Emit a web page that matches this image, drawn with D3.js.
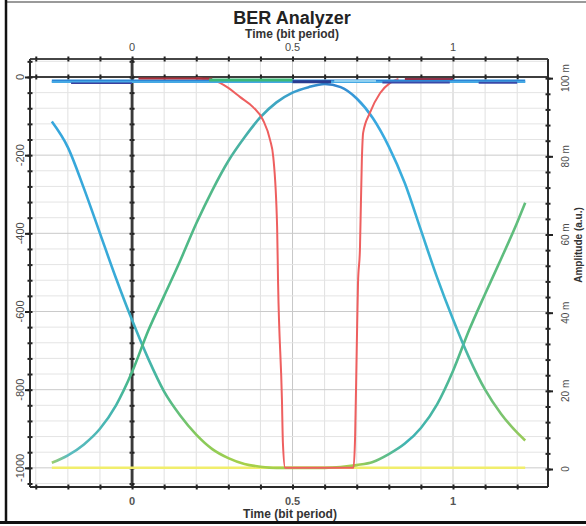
<!DOCTYPE html>
<html>
<head>
<meta charset="utf-8">
<script src="https://cdn.jsdelivr.net/npm/d3@7"></script>
<style>
  html, body { margin: 0; padding: 0; background: #fff; }
  svg { display: block; font-family: 'Liberation Sans', Arial, sans-serif; }
</style>
</head>
<body>
<svg id="chart" width="586" height="526"></svg>
<script>
// tick labels
const timeTicks = [0, 0.5, 1];
const leftTicks = [0, -200, -400, -600, -800, -1000];
const rightTicks = [0, 20, 40, 60, 80, 100];
const rightLabels = ['0', '20 m', '40 m', '60 m', '80 m', '100 m'];

// eye trace that falls from the left, rests on the floor and rises to the right
const zeroTime = [-0.25, -0.2, -0.15, -0.1, -0.05, 0, 0.05, 0.1, 0.15, 0.2, 0.25, 0.3, 0.35, 0.4, 0.45, 0.5,
  0.55, 0.6, 0.65, 0.7, 0.75, 0.8, 0.85, 0.9, 0.95, 1.0, 1.05, 1.1, 1.15, 1.2, 1.225];
const zeroValue = [-114, -180, -285, -400, -515, -622, -720, -805, -866, -915, -952, -975, -990, -997, -1000, -1000,
  -1000, -1000, -998, -993, -985, -965, -938, -898, -838, -752, -648, -555, -465, -372, -322];

// eye trace that rises from the left, peaks near 0.6 and falls to the right
const oneTime = zeroTime;
const oneValue = [-987, -968, -940, -900, -840, -755, -650, -560, -470, -375, -290, -215, -155, -103, -65, -40,
  -26, -18, -26, -55, -105, -178, -272, -392, -512, -620, -718, -800, -862, -910, -930];

// BER curve (red)
const berTime = [0.2, 0.25, 0.274, 0.3, 0.336, 0.377, 0.408, 0.43, 0.44, 0.452, 0.455, 0.467, 0.47, 0.477,
  0.69, 0.695, 0.7, 0.704, 0.71, 0.716, 0.72, 0.741, 0.773, 0.804, 0.83];
const berValue = [-4, -8, -15, -28, -51, -77, -110, -161, -205, -384, -528, -826, -936, -1000,
  -1000, -920, -698, -528, -442, -212, -143, -92, -41, -15, -5];

// flat floor (yellow)
const floorTime = [-0.25, 1.225];
const floorValue = [-1000, -1000];

// pieces of the top rail
const railStart = [-0.25, -0.25, -0.19, 0.02, 0.24, 0.5, 0.63, 0.78, 0.85, 1.08];
const railEnd = [1.225, 1.225, 0.0, 0.25, 0.5, 0.62, 0.76, 0.99, 1.0, 1.2];
const railValue = [-10, -13, -16, -4, -8, -12, -10, -14, -5, -15];

(function () {
  'use strict';

  const railColor = ['#2b86d6', '#45a8e4', '#3b3f9e', '#b0303a', '#3cb878', '#2a3c90', '#8fd0f0', '#3848a8', '#903048', '#3848a8'];
  const railWidth = [3, 2, 1.5, 2, 3, 3, 2, 2, 2, 2];

  const zeroStopT = [-0.25, -0.05, 0.02, 0.1, 0.2, 0.35, 0.7, 0.78, 0.86, 0.95, 1.05, 1.225];
  const zeroStopC = ['#36a6dc', '#38aad8', '#3fb2c0', '#4cb890', '#86c95c', '#a6d04a', '#a2ce4e', '#62be84', '#3eb3b6', '#48b6a0', '#58bb80', '#62be7c'];
  const oneStopT = [-0.25, -0.2, -0.06, 0.0, 0.25, 0.4, 0.52, 0.62, 0.72, 0.8, 1.0, 1.08, 1.225];
  const oneStopC = ['#9ccf6c', '#5cbcc0', '#45b5b0', '#4ab884', '#52b988', '#42acb8', '#389cd0', '#2f7fca', '#3aa3de', '#38ace0', '#3cb2cc', '#5cbc84', '#9acb58'];

  const L = 30, R = 548, T = 59, B = 487;

  const svg = d3.select('#chart');
  const x = d3.scaleLinear().domain([-0.318, 1.296]).range([L, R]);
  const yL = d3.scaleLinear().domain([-1049, 46]).range([B, T]);
  const yR = d3.scaleLinear().domain([-4.6, 104.9]).range([B, T]);

  const xMinor = d3.range(-3, 13).map(d => d / 10);
  const yMinor = d3.range(-26, 2).map(d => d * 40);
  const rMinor = d3.range(0, 26).map(d => d * 4);

  _window();
  _grid();
  _traces();
  _frame();
  _labels();

  function _window() {
    svg.append('line').attr('x1', 6).attr('x2', 586).attr('y1', 2).attr('y2', 2)
      .attr('stroke', '#9a9a9a').attr('stroke-width', 2);
    svg.append('line').attr('x1', 6).attr('x2', 6).attr('y1', 0).attr('y2', 522)
      .attr('stroke', '#111').attr('stroke-width', 2.5);
    svg.append('line').attr('x1', 0).attr('x2', 586).attr('y1', 522.5).attr('y2', 522.5)
      .attr('stroke', '#111').attr('stroke-width', 3);
  }

  function _grid() {
    const g = svg.append('g');
    g.selectAll('.vgrid').data(xMinor).join('line')
      .attr('x1', d => x(d)).attr('x2', d => x(d)).attr('y1', T).attr('y2', B)
      .attr('stroke', d => Math.abs(d * 2 - Math.round(d * 2)) < 1e-6 ? '#c8c8c8' : '#e0e0e0')
      .attr('stroke-width', 1);
    g.selectAll('.hgrid').data(yMinor).join('line')
      .attr('x1', L).attr('x2', R).attr('y1', d => yL(d)).attr('y2', d => yL(d))
      .attr('stroke', d => d % 200 === 0 ? '#cacaca' : '#e4e4e4')
      .attr('stroke-width', 1);

    // zero lines with their own ticks
    const zx = svg.append('g').attr('transform', `translate(0,${yL(0)})`);
    zx.call(d3.axisBottom(x).tickValues(xMinor).tickSize(2.5).tickFormat(''));
    zx.call(g2 => g2.append('g').call(d3.axisTop(x).tickValues(xMinor).tickSize(2.5).tickFormat('')));
    _style(zx, '#333', 1.5);

    const zy = svg.append('g').attr('transform', `translate(${x(0)},0)`);
    zy.call(d3.axisLeft(yL).tickValues(yMinor).tickSize(2.5).tickFormat(''));
    zy.call(g2 => g2.append('g').call(d3.axisRight(yL).tickValues(yMinor).tickSize(2.5).tickFormat('')));
    _style(zy, '#3a3a3a', 2.5);
    zy.selectAll('.domain').attr('d', `M0,${T}V${B}`);
    zx.selectAll('.domain').attr('d', `M${L},0H${R}`);
  }

  function _style(g, color, width) {
    g.selectAll('.domain').attr('stroke', color).attr('stroke-width', width);
    g.selectAll('.tick line').attr('stroke', '#222').attr('stroke-width', 2);
  }

  function _gradient(id, stopT, stopC) {
    const defs = svg.select('defs').empty() ? svg.append('defs') : svg.select('defs');
    const grad = defs.append('linearGradient').attr('id', id)
      .attr('gradientUnits', 'userSpaceOnUse')
      .attr('x1', x(stopT[0])).attr('x2', x(stopT[stopT.length - 1]))
      .attr('y1', 0).attr('y2', 0);
    const span = stopT[stopT.length - 1] - stopT[0];
    grad.selectAll('stop').data(stopT).join('stop')
      .attr('offset', d => (d - stopT[0]) / span)
      .attr('stop-color', (d, i) => stopC[i]);
  }

  function _traces() {
    const line = d3.line().x(d => x(d[0])).y(d => yL(d[1])).curve(d3.curveMonotoneX);
    const zip = (a, b) => a.map((t, i) => [t, b[i]]);

    _gradient('zeroGrad', zeroStopT, zeroStopC);
    _gradient('oneGrad', oneStopT, oneStopC);

    svg.append('path').datum(zip(floorTime, floorValue)).attr('d', line)
      .attr('fill', 'none').attr('stroke', '#f1ee6c').attr('stroke-width', 2.5);

    svg.append('path').datum(zip(zeroTime, zeroValue)).attr('d', line)
      .attr('fill', 'none').attr('stroke', 'url(#zeroGrad)').attr('stroke-width', 2.6);
    svg.append('path').datum(zip(oneTime, oneValue)).attr('d', line)
      .attr('fill', 'none').attr('stroke', 'url(#oneGrad)').attr('stroke-width', 2.6);

    svg.append('path').datum(zip(berTime, berValue)).attr('d', line)
      .attr('fill', 'none').attr('stroke', '#ee5f5f').attr('stroke-width', 2);

    svg.append('g').selectAll('line').data(railStart).join('line')
      .attr('x1', d => x(d)).attr('x2', (d, i) => x(railEnd[i]))
      .attr('y1', (d, i) => yL(railValue[i])).attr('y2', (d, i) => yL(railValue[i]))
      .attr('stroke', (d, i) => railColor[i]).attr('stroke-width', (d, i) => railWidth[i]);
  }

  function _frame() {
    const left = svg.append('g').attr('transform', `translate(${L},0)`);
    left.call(d3.axisLeft(yL).tickValues(yMinor).tickSize(2.5).tickFormat(''));
    left.call(g => g.append('g').call(d3.axisRight(yL).tickValues(yMinor).tickSize(2.5).tickFormat('')));
    left.call(g => g.append('g').call(d3.axisLeft(yL).tickValues(leftTicks).tickSize(5).tickFormat('')));
    _style(left, '#2a2a2a', 2);
    left.selectAll('.domain').attr('d', `M0,${T}V${B}`);

    const right = svg.append('g').attr('transform', `translate(${R},0)`);
    right.call(d3.axisRight(yR).tickValues(rMinor).tickSize(2.5).tickFormat(''));
    right.call(g => g.append('g').call(d3.axisLeft(yR).tickValues(rMinor).tickSize(2.5).tickFormat('')));
    right.call(g => g.append('g').call(d3.axisRight(yR).tickValues(rightTicks).tickSize(5).tickFormat('')));
    _style(right, '#2a2a2a', 2);
    right.selectAll('.domain').attr('d', `M0,${T}V${B}`);

    const bottom = svg.append('g').attr('transform', `translate(0,${B})`);
    bottom.call(d3.axisTop(x).tickValues(xMinor).tickSize(2.5).tickFormat(''));
    bottom.call(g => g.append('g').call(d3.axisBottom(x).tickValues(xMinor).tickSize(2.5).tickFormat('')));
    _style(bottom, '#2a2a2a', 2);
    bottom.selectAll('.domain').attr('d', `M${L},0H${R}`);

    const top = svg.append('g').attr('transform', `translate(0,${T})`);
    top.call(d3.axisBottom(x).tickValues(xMinor).tickSize(2.5).tickFormat(''));
    top.call(g => g.append('g').call(d3.axisTop(x).tickValues(xMinor).tickSize(2.5).tickFormat('')));
    _style(top, '#3a3a3a', 1.5);
    top.selectAll('.domain').attr('d', `M${L},0H${R}`);
  }

  function _labels() {
    const tickFont = g => g.attr('font-size', 11).attr('fill', '#4a4a4a');

    svg.append('g').call(tickFont).selectAll('text').data(leftTicks).join('text')
      .attr('transform', d => `translate(${L - 6},${yL(d)}) rotate(-90)`)
      .attr('text-anchor', 'middle').text(d => d);

    svg.append('g').call(tickFont).attr('font-size', 10).selectAll('text').data(rightTicks).join('text')
      .attr('transform', d => `translate(${R + 21},${yR(d)}) rotate(-90)`)
      .attr('text-anchor', 'middle').text((d, i) => rightLabels[i]);

    svg.append('g').call(tickFont).attr('font-weight', 'bold').attr('fill', '#555').selectAll('text').data(timeTicks).join('text')
      .attr('x', d => x(d)).attr('y', B + 18)
      .attr('text-anchor', 'middle').text(d => d);

    svg.append('g').call(tickFont).selectAll('text').data(timeTicks).join('text')
      .attr('x', d => x(d)).attr('y', T - 8)
      .attr('text-anchor', 'middle').text(d => d);

    svg.append('text').attr('x', 292).attr('y', 24).attr('text-anchor', 'middle')
      .attr('font-size', 18).attr('font-weight', 'bold').attr('fill', '#222').text('BER Analyzer');
    svg.append('text').attr('x', 292).attr('y', 38).attr('text-anchor', 'middle')
      .attr('font-size', 12).attr('font-weight', 'bold').attr('fill', '#333').text('Time (bit period)');
    svg.append('text').attr('x', 290).attr('y', 518).attr('text-anchor', 'middle')
      .attr('font-size', 12).attr('font-weight', 'bold').attr('fill', '#333').text('Time (bit period)');
    svg.append('text').attr('transform', `translate(582,245) rotate(-90)`).attr('text-anchor', 'middle')
      .attr('font-size', 10).attr('font-weight', 'bold').attr('fill', '#333').text('Amplitude (a.u.)');
  }
}());
</script>
</body>
</html>
